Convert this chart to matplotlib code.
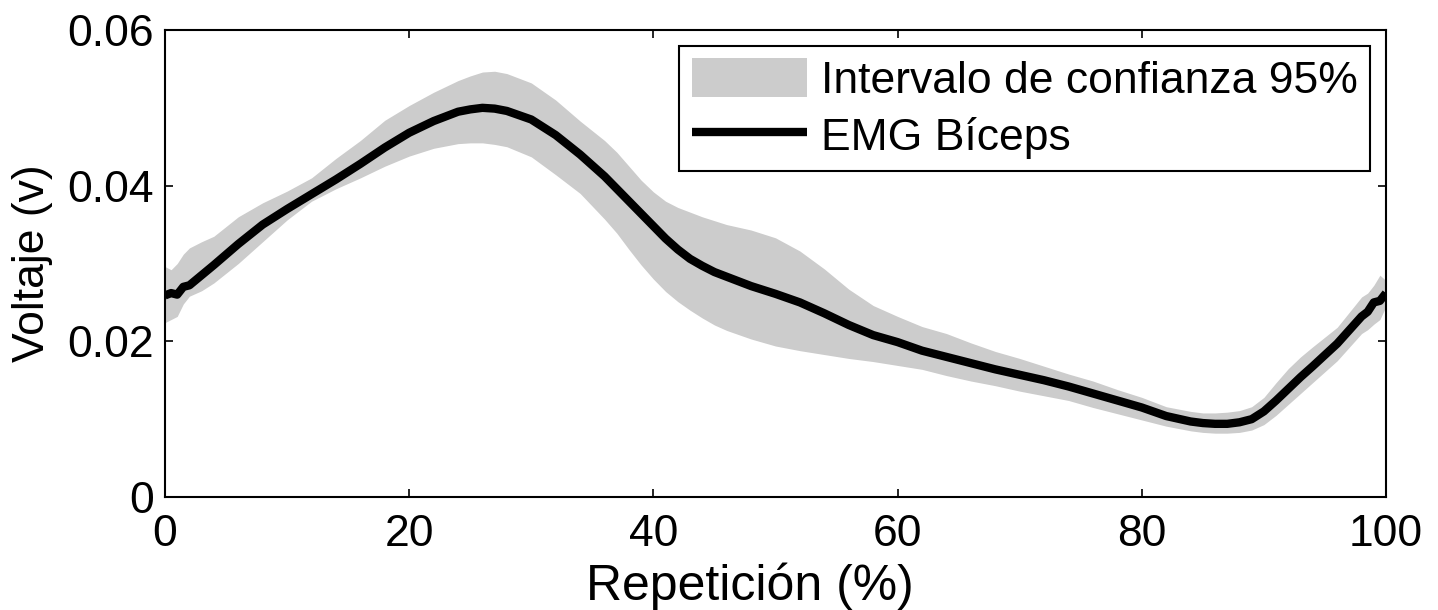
import matplotlib
matplotlib.use("Agg")
import matplotlib.pyplot as plt

# Data
repeticion = [0, 0.5, 1, 1.5, 2,
              3, 4, 6, 8, 10,
              12, 14, 16, 18, 20,
              22, 24, 25, 26, 27,
              28, 30, 32, 34, 36,
              37, 38, 39, 40, 41,
              42, 43, 44, 45, 46,
              48, 50, 52, 54, 56,
              58, 60, 62, 64, 66,
              68, 70, 72, 74, 76,
              78, 80, 82, 84, 85,
              86, 87, 88, 89, 90,
              91, 92, 93, 94, 96,
              98, 98.5, 99, 99.5, 100]

emg_biceps = [0.0259, 0.0262, 0.0260, 0.0270, 0.0272,
              0.0285, 0.0298, 0.0325, 0.0350, 0.0370,
              0.0389, 0.0408, 0.0428, 0.0449, 0.0468,
              0.0483, 0.0495, 0.0498, 0.0500, 0.0499,
              0.0496, 0.0485, 0.0465, 0.0440, 0.0412,
              0.0396, 0.0380, 0.0364, 0.0348, 0.0332,
              0.0318, 0.0306, 0.0297, 0.0289, 0.0283,
              0.0271, 0.0261, 0.0250, 0.0236, 0.0221,
              0.0208, 0.0199, 0.0188, 0.0180, 0.0172,
              0.0164, 0.0157, 0.0150, 0.0142, 0.0133,
              0.0124, 0.0115, 0.0104, 0.0097, 0.0095,
              0.0094, 0.0094, 0.0096, 0.0100, 0.0110,
              0.0124, 0.0139, 0.0154, 0.0168, 0.0197,
              0.0232, 0.0238, 0.0250, 0.0252, 0.0262]

ic_superior = [0.0296, 0.0292, 0.0300, 0.0312, 0.0320,
               0.0328, 0.0335, 0.0360, 0.0378, 0.0393,
               0.0410, 0.0435, 0.0458, 0.0484, 0.0503,
               0.0520, 0.0535, 0.0541, 0.0546, 0.0547,
               0.0544, 0.0532, 0.0510, 0.0483, 0.0458,
               0.0443, 0.0425, 0.0407, 0.0392, 0.0380,
               0.0372, 0.0366, 0.0360, 0.0355, 0.0350,
               0.0343, 0.0333, 0.0316, 0.0293, 0.0267,
               0.0246, 0.0232, 0.0219, 0.0210, 0.0198,
               0.0187, 0.0178, 0.0168, 0.0158, 0.0149,
               0.0138, 0.0128, 0.0116, 0.0110, 0.0108,
               0.0108, 0.0109, 0.0111, 0.0116, 0.0128,
               0.0147, 0.0165, 0.0180, 0.0193, 0.0218,
               0.0257, 0.0262, 0.0272, 0.0285, 0.0278]

ic_inferior = [0.0224, 0.0228, 0.0232, 0.0248, 0.0258,
               0.0265, 0.0275, 0.0300, 0.0328, 0.0356,
               0.0380, 0.0396, 0.0410, 0.0425, 0.0438,
               0.0448, 0.0454, 0.0455, 0.0455, 0.0453,
               0.0450, 0.0437, 0.0414, 0.0390, 0.0357,
               0.0339, 0.0318, 0.0298, 0.0280, 0.0264,
               0.0251, 0.0240, 0.0230, 0.0221, 0.0214,
               0.0203, 0.0194, 0.0188, 0.0183, 0.0178,
               0.0174, 0.0169, 0.0164, 0.0156, 0.0149,
               0.0143, 0.0136, 0.0130, 0.0124, 0.0115,
               0.0107, 0.0099, 0.0091, 0.0085, 0.0083,
               0.0082, 0.0082, 0.0083, 0.0086, 0.0093,
               0.0105, 0.0119, 0.0133, 0.0147, 0.0175,
               0.0210, 0.0215, 0.0222, 0.0228, 0.0245]

x_ticks = [0, 20, 40, 60, 80, 100]
y_ticks = [0, 0.02, 0.04, 0.06]
y_tick_labels = ["0", "0.02", "0.04", "0.06"]

plt.rcParams['font.family'] = ['Liberation Sans', 'DejaVu Sans']
FS = 32

fig = plt.figure(figsize=(14.38, 6.10), dpi=100)
ax = fig.add_axes([165/1438, 1 - 497/610, (1386 - 165)/1438, (497 - 30)/610])

ax.fill_between(repeticion, ic_inferior, ic_superior, color='#cccccc', linewidth=0,
                label='Intervalo de confianza 95%')
ax.plot(repeticion, emg_biceps, color='black', linewidth=6, solid_capstyle='butt',
        solid_joinstyle='round', label='EMG Bíceps')

ax.set_xlim(0, 100)
ax.set_ylim(0, 0.06)
ax.set_xticks(x_ticks)
ax.set_xticklabels([str(t) for t in x_ticks])
ax.set_yticks(y_ticks)
ax.set_yticklabels(y_tick_labels)

ax.tick_params(direction='in', length=6, width=1.2, labelsize=FS,
               top=True, right=True, color='black')
ax.tick_params(axis='x', pad=12)
ax.tick_params(axis='y', pad=8)
for sp in ax.spines.values():
    sp.set_linewidth(1.5)
    sp.set_color('black')

ax.set_xlabel('Repetición (%)', fontsize=36, labelpad=2)
ax.xaxis.set_label_coords((750 - 165) / 1221, -0.14)
ax.set_ylabel('Voltaje (v)', fontsize=FS, labelpad=10)

leg = ax.legend(loc='upper right', fontsize=FS, frameon=True, fancybox=False,
                edgecolor='black', framealpha=1, borderaxespad=0.36,
                handlelength=2.6, handleheight=0.95, handletextpad=0.3,
                borderpad=0.28, labelspacing=0.3)
leg.get_frame().set_linewidth(1.5)

fig.savefig('out.png', dpi=100, facecolor='white')
